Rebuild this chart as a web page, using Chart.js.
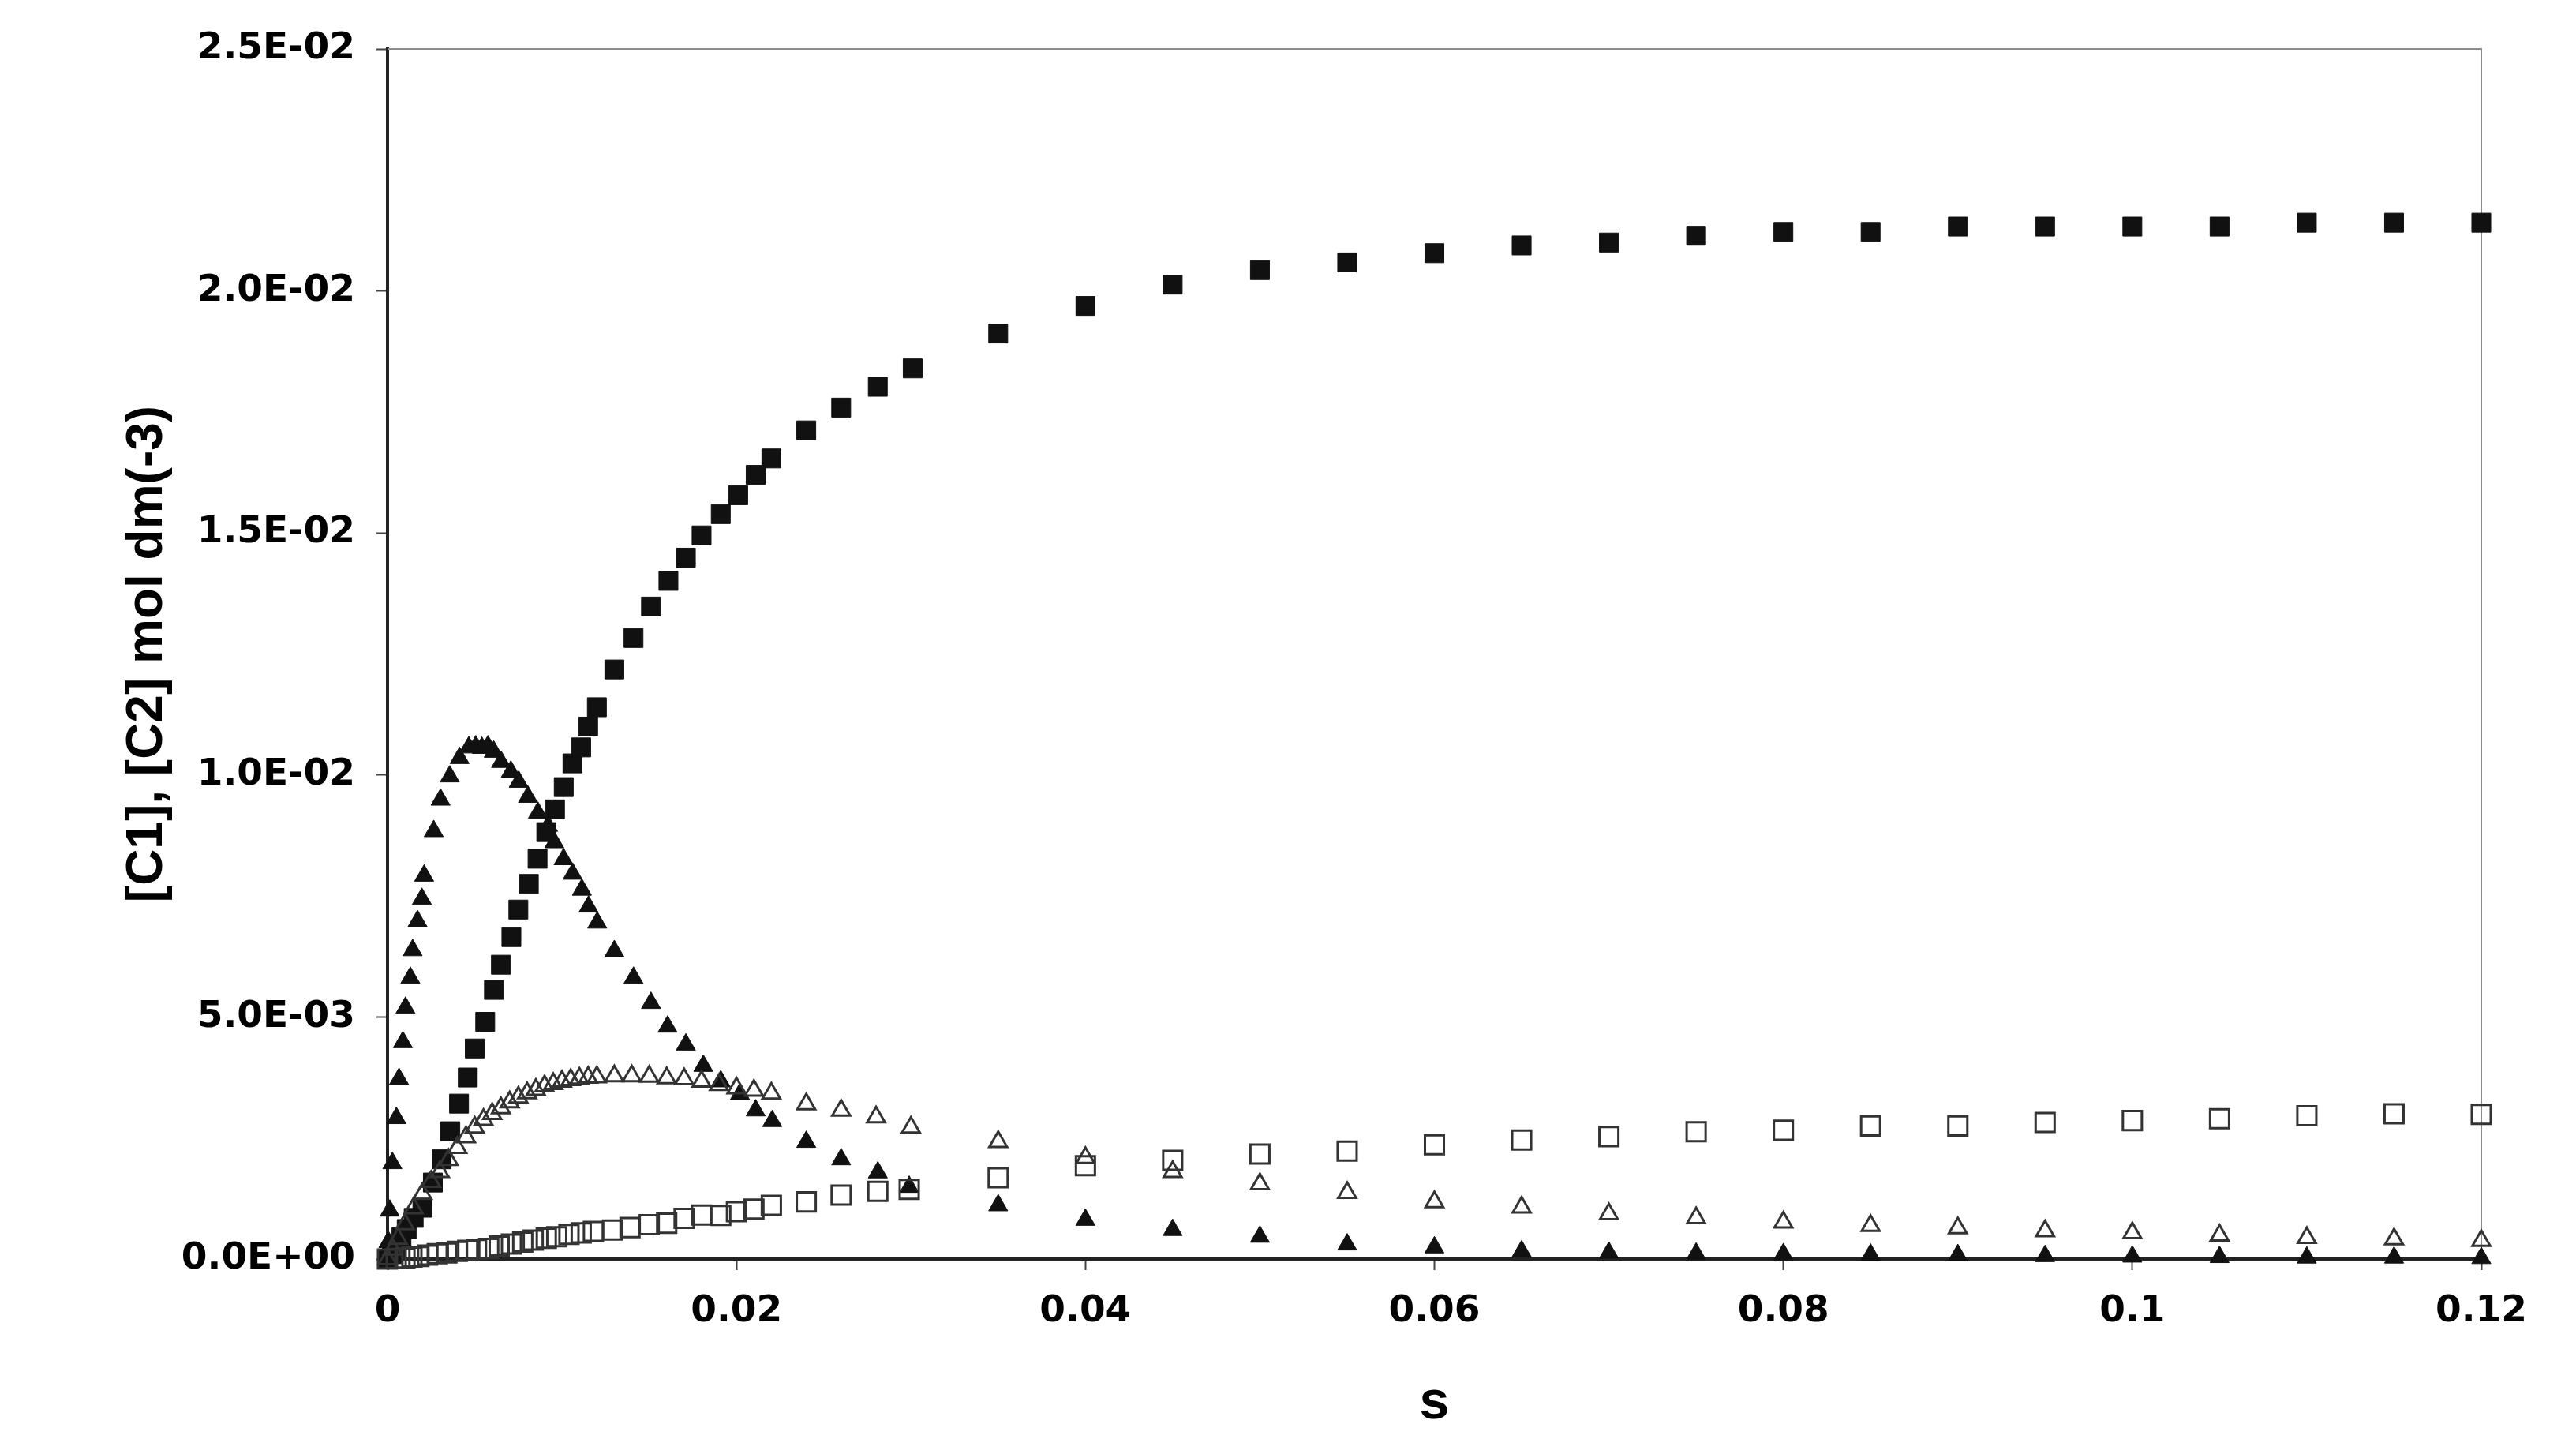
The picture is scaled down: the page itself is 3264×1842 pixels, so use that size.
<!DOCTYPE html>
<html>
<head>
<meta charset="utf-8">
<title>[C1], [C2] against s</title>
<script src="https://cdn.jsdelivr.net/npm/chart.js@4.4.1/dist/chart.umd.min.js"></script>
<style>
  html, body { margin: 0; padding: 0; background: #fff; }
  #wrap { width: 3264px; height: 1842px; }
</style>
</head>
<body>
<div id="wrap"><canvas id="chart" width="3264" height="1842"></canvas></div>
<script>
//---------------------DATA (s and conc. in units of 1e-3)---------------------//
const xTicks = [0, 0.02, 0.04, 0.06, 0.08, 0.1, 0.12];
const yTicks = [0, 0.005, 0.01, 0.015, 0.02, 0.025];

// filled squares
const sqFilledX = [0, 0.25, 0.5, 0.8, 1.1, 1.5, 2.0, 2.6, 3.1, 3.6, 4.1, 4.6, 5.0, 5.6, 6.1, 6.5, 7.1, 7.5, 8.1, 8.6,
  9.1, 9.6, 10.1, 10.6, 11.1, 11.5, 12.0, 13, 14.1, 15.1, 16.1, 17.1, 18, 19.1, 20.1, 21.1, 22, 24, 26, 28.1, 30.1,
  35, 40, 45, 50, 55, 60, 65, 70, 75, 80, 85, 90, 95, 100, 105, 110, 115, 120];
const sqFilledY = [0, 0.1, 0.25, 0.45, 0.62, 0.85, 1.06, 1.58, 2.06, 2.64, 3.21, 3.75, 4.35, 4.9, 5.56, 6.08, 6.65, 7.22, 7.75, 8.27,
  8.82, 9.29, 9.75, 10.24, 10.57, 11.0, 11.4, 12.18, 12.83, 13.48, 14.01, 14.49, 14.95, 15.39, 15.78, 16.2, 16.54, 17.12, 17.59, 18.02, 18.4,
  19.12, 19.69, 20.13, 20.43, 20.59, 20.78, 20.94, 21.0, 21.14, 21.22, 21.22, 21.33, 21.33, 21.33, 21.33, 21.41, 21.41, 21.41];

// filled triangles
const triFilledX = [0, 0.05, 0.13, 0.28, 0.51, 0.66, 0.88, 1.03, 1.31, 1.44, 1.72, 1.97, 2.1, 2.65, 3.04, 3.57, 4.13, 4.66, 5.06, 5.41,
  5.76, 6.09, 6.51, 7.07, 7.52, 8.05, 8.62, 9.2, 9.56, 10.09, 10.61, 11.14, 11.52, 12.02, 13.0, 14.1, 15.1, 16.05, 17.1, 18.1,
  19.1, 20.2, 21.1, 22.05, 24.0, 26.0, 28.1, 29.9,
  35, 40, 45, 50, 55, 60, 65, 70, 75, 80, 85, 90, 95, 100, 105, 110, 115, 120];
const triFilledY = [0, 0.35, 1.0, 1.98, 2.91, 3.72, 4.48, 5.19, 5.81, 6.38, 6.98, 7.44, 7.92, 8.84, 9.49, 9.97, 10.35, 10.57, 10.59, 10.56,
  10.59, 10.48, 10.27, 10.07, 9.86, 9.55, 9.22, 8.95, 8.61, 8.26, 7.96, 7.63, 7.28, 6.95, 6.36, 5.81, 5.29, 4.8, 4.43, 3.99,
  3.67, 3.41, 3.07, 2.85, 2.42, 2.06, 1.79, 1.49,
  1.11, 0.81, 0.6, 0.46, 0.3, 0.24, 0.16, 0.13, 0.11, 0.1, 0.09, 0.08, 0.06, 0.05, 0.04, 0.03, 0.03, 0.02];

// open triangles
const triOpenX = [0, 0.3, 0.6, 1.0, 1.5, 2.0, 2.5, 3.0, 3.5, 4.0, 4.5, 5.0, 5.5, 6.0, 6.5, 7.0, 7.5, 8.0, 8.5, 9.0,
  9.5, 10.0, 10.5, 11.0, 11.5, 12.0, 13, 14, 15, 16, 17, 18, 19, 20, 21, 22, 24, 26, 28, 30,
  35, 40, 45, 50, 55, 60, 65, 70, 75, 80, 85, 90, 95, 100, 105, 110, 115, 120];
const triOpenY = [0, 0.2, 0.42, 0.72, 1.05, 1.35, 1.6, 1.8, 2.05, 2.3, 2.52, 2.72, 2.88, 3.0, 3.12, 3.24, 3.34, 3.43, 3.5, 3.57,
  3.62, 3.67, 3.7, 3.73, 3.75, 3.76, 3.78, 3.78, 3.77, 3.74, 3.72, 3.67, 3.6, 3.53, 3.48, 3.42, 3.2, 3.07, 2.93, 2.72,
  2.42, 2.09, 1.8, 1.55, 1.37, 1.18, 1.07, 0.93, 0.85, 0.76, 0.69, 0.64, 0.58, 0.54, 0.49, 0.44, 0.41, 0.38];

// open squares
const sqOpenX = [0, 0.5, 1.0, 1.4, 1.8, 2.3, 2.85, 3.4, 4.0, 4.6, 5.1, 5.8, 6.4, 7.1, 7.75, 8.35, 9.1, 9.7, 10.4, 11.1,
  11.8, 12.9, 13.9, 15.0, 16.0, 17.0, 18.0, 19.1, 20.0, 21.0, 22.0, 24.0, 26.0, 28.1, 29.9,
  35, 40, 45, 50, 55, 60, 65, 70, 75, 80, 85, 90, 95, 100, 105, 110, 115, 120];
const sqOpenY = [0, 0.01, 0.02, 0.04, 0.054, 0.08, 0.11, 0.125, 0.16, 0.18, 0.2, 0.22, 0.27, 0.31, 0.35, 0.39, 0.43, 0.46, 0.51, 0.54,
  0.57, 0.6, 0.65, 0.71, 0.74, 0.84, 0.91, 0.9, 0.98, 1.03, 1.11, 1.18, 1.32, 1.40, 1.44,
  1.68, 1.93, 2.04, 2.17, 2.23, 2.36, 2.46, 2.53, 2.63, 2.66, 2.75, 2.75, 2.82, 2.86, 2.9, 2.96, 3.0, 2.99];

//---------------------HELPERS--------------------------------------//
function toPoints(xs, ys) {
  return xs.map((x, i) => ({ x: x / 1000, y: ys[i] / 1000 }));
}

function excelSci(value) {
  if (value === 0) return '0.0E+00';
  const [mant, exp] = value.toExponential(1).split('e');
  const e = parseInt(exp, 10);
  const sign = e < 0 ? '-' : '+';
  return mant + 'E' + sign + String(Math.abs(e)).padStart(2, '0');
}

// grey top / right frame of the plot box
const frameLines = {
  id: 'frameLines',
  beforeDatasetsDraw(chart) {
    const { ctx, chartArea: a } = chart;
    ctx.save();
    ctx.strokeStyle = '#8c8c8c';
    ctx.lineWidth = 2;
    ctx.beginPath();
    ctx.moveTo(a.left, a.top);
    ctx.lineTo(a.right, a.top);
    ctx.lineTo(a.right, a.bottom);
    ctx.stroke();
    ctx.restore();
  }
};

//---------------------CHART--------------------------------------//
Chart.defaults.font.family = "'Liberation Sans', Arial, sans-serif";
Chart.defaults.color = '#000';

const ink = '#111';
const tickFont = { family: "'DejaVu Sans', sans-serif", size: 47, weight: 'bold' };

new Chart(document.getElementById('chart'), {
  type: 'scatter',
  data: {
    datasets: [
      {
        label: 'open squares',
        data: toPoints(sqOpenX, sqOpenY),
        pointStyle: 'rect', pointRadius: 17, pointHoverRadius: 17,
        backgroundColor: 'rgba(0,0,0,0)', borderColor: '#333', borderWidth: 3,
        clip: false
      },
      {
        label: 'open triangles',
        data: toPoints(triOpenX, triOpenY),
        pointStyle: 'triangle', pointRadius: 13, pointHoverRadius: 13,
        backgroundColor: 'rgba(0,0,0,0)', borderColor: '#333', borderWidth: 3,
        clip: false
      },
      {
        label: 'filled triangles',
        data: toPoints(triFilledX, triFilledY),
        pointStyle: 'triangle', pointRadius: 14, pointHoverRadius: 14,
        backgroundColor: ink, borderColor: ink, borderWidth: 1,
        clip: false
      },
      {
        label: 'filled squares',
        data: toPoints(sqFilledX, sqFilledY),
        pointStyle: 'rect', pointRadius: 17, pointHoverRadius: 17,
        backgroundColor: ink, borderColor: ink, borderWidth: 1,
        clip: false
      }
    ]
  },
  options: {
    responsive: false,
    animation: false,
    devicePixelRatio: 1,
    layout: { padding: { left: 0, right: 120, top: 62, bottom: 0 } },
    plugins: {
      legend: { display: false },
      tooltip: { enabled: false }
    },
    scales: {
      x: {
        type: 'linear',
        min: 0,
        max: 0.12,
        afterBuildTicks(scale) { scale.ticks = xTicks.map(v => ({ value: v })); },
        afterFit(scale) { scale.height = 247; },
        grid: { drawOnChartArea: false, drawTicks: true, tickLength: 14, tickColor: '#444', tickWidth: 2 },
        border: { display: true, color: '#222', width: 4 },
        ticks: {
          padding: 25,
          font: tickFont,
          callback: v => String(Number(v.toFixed(2)))
        },
        title: {
          display: true,
          text: 's',
          font: { size: 68, weight: 'bold' },
          padding: { top: 0, bottom: 23 }
        }
      },
      y: {
        type: 'linear',
        min: 0,
        max: 0.025,
        afterBuildTicks(scale) { scale.ticks = yTicks.map(v => ({ value: v })); },
        afterFit(scale) { scale.width = 491; },
        grid: { drawOnChartArea: false, drawTicks: true, tickLength: 14, tickColor: '#444', tickWidth: 2 },
        border: { display: true, color: '#222', width: 4 },
        ticks: {
          padding: 27,
          font: tickFont,
          callback: v => excelSci(v)
        },
        title: {
          display: true,
          text: '[C1], [C2] mol dm(-3)',
          font: { size: 64, weight: 'bold' },
          padding: { top: 149, bottom: 0 }
        }
      }
    }
  },
  plugins: [frameLines]
});
</script>
</body>
</html>
